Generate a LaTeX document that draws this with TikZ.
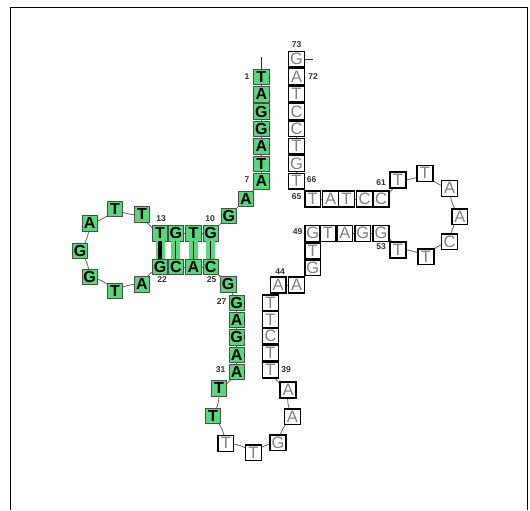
\documentclass[tikz,border=0pt]{standalone}
\usepackage{fontspec}
\setmainfont{Liberation Sans}
\definecolor{ggreen}{RGB}{90,214,124}
\definecolor{lettergray}{RGB}{128,128,128}
\pgfdeclarelayer{bg}
\pgfdeclarelayer{paper}
\pgfsetlayers{paper,bg,main}
\newcommand{\gfont}{\fontsize{16}{16}\selectfont\bfseries}
\newcommand{\wfont}{\fontsize{16.5}{16.5}\selectfont}
\newcommand{\lfont}{\fontsize{8.5}{8.5}\selectfont\bfseries}
\tikzset{
  gb/.style={draw=black!70, line width=0.6pt, fill=ggreen, minimum size=15.5pt, inner sep=0pt, font=\gfont, text=black},
  wb/.style={draw=black, line width=1.4pt, fill=white, minimum size=15.8pt, inner sep=0pt, font=\wfont, text=lettergray},
  bb/.style={draw=black!60, line width=0.8pt},
  lab/.style={font=\lfont, text=black!80, inner sep=0pt},
  pairband/.style={fill=ggreen, draw=none},
  pairline/.style={draw=black, line width=1pt},
  tickmark/.style={draw=black!85, line width=1.1pt},
  frameline/.style={draw=black, line width=1.5pt}
}
\begin{document}
\begin{tikzpicture}[x=1pt,y=-1pt]
\begin{pgfonlayer}{paper}
\useasboundingbox[fill=white] (0,0) rectangle (530,510);
\end{pgfonlayer}
\draw[frameline] (10.5,510) -- (10.5,7.5) -- (527.5,7.5) -- (527.5,510);

% green nucleotides
\foreach \i/\x/\y/\b in {
 1/261.3/76.7/T, 2/261.3/94.1/A, 3/261.3/111.5/G, 4/261.3/128.9/G, 5/261.3/146.3/A, 6/261.3/163.7/T, 7/261.3/181.1/A,
 8/245.8/199/A, 9/228.9/216/G, 10/210.6/233.3/G, 11/193.4/233.3/T, 12/175.8/233.3/G, 13/160/233.3/T,
 14/142/214.3/T, 15/115/209/T, 16/89.6/223.3/A, 17/80/250.7/G, 18/89.6/276.7/G, 19/115/291/T, 20/142/284.3/A,
 21/160/267/G, 22/175.8/267/C, 23/193.4/267/A, 24/210.6/267/C, 25/228.2/284.3/G,
 26/236.7/302.7/G, 27/236.7/320/A, 28/236.7/337.3/G, 29/236.7/354.7/A, 30/236.7/372/A,
 31/219/388.3/T, 32/213/416/T}
  \node[gb] (n\i) at (\x,\y) {\b};

% white nucleotides
\foreach \i/\x/\y/\b in {
 33/225.8/443.3/T, 34/253.5/452.7/T, 35/278/442.7/G, 36/292.4/416.7/A, 37/288/390/A,
 38/270.5/370/T, 39/270.5/353/T, 40/270.5/336/C, 41/270.5/319.5/T, 42/270.5/302.7/T,
 43/278.2/285/A, 44/296.5/285/A, 45/312.7/267.7/G, 46/312.7/251/T, 47/312.7/233.3/G,
 48/328/233.3/T, 49/344.8/233.3/A, 50/362.8/233.3/G, 51/381/233.3/G,
 52/398/250/T, 53/426/256.7/T, 54/449.6/241.7/C, 55/459.8/216.7/A, 56/449.6/188.3/A, 57/425/173.3/T, 58/398/180/T,
 59/381/199/C, 60/364.5/199/C, 61/346.5/199/T, 62/330.6/199/A, 63/312.7/199/T,
 64/296.5/181.1/T, 65/296.5/163.7/G, 66/296.5/146.3/T, 67/296.5/128.9/C, 68/296.5/111.5/C, 69/296.5/94.1/T, 70/296.5/76.7/A, 71/296.5/59.3/G}
  \node[wb] (n\i) at (\x,\y) {\b};

% ends
\coordinate (five) at (261.3,57);
\coordinate (three) at (313,59.3);

\begin{pgfonlayer}{bg}
  % straight backbone
  \foreach \i in {1,2,3,4,5,6,7,8,9,10,11,12,21,22,23,24,25,26,27,28,29,38,39,40,41,42,43,44,45,46,47,48,49,50,59,60,61,62,63,64,65,66,67,68,69,70}
    {\pgfmathtruncatemacro{\j}{\i+1}
     \draw[bb] (n\i.center) -- (n\j.center);}
  % loop backbone
  \foreach \i in {13,14,15,16,17,18,19,20,30,31,32,33,34,35,36,37,51,52,53,54,55,56,57,58}
    {\pgfmathtruncatemacro{\j}{\i+1}
     \draw[bb] (n\i.center) to[bend left=16] (n\j.center);}
  \draw[draw=black!80, line width=0.8pt] (n1.center) -- (five);
  \draw[draw=black!80, line width=0.8pt] (n71.center) -- (three);
\end{pgfonlayer}

% base pairs of the left stem
\foreach \a/\b in {10/24, 11/23, 12/22, 13/21}
  \fill[pairband] ([xshift=-4.5pt]n\a.south) rectangle ([xshift=4.5pt]n\b.north);
\foreach \a/\b in {10/24, 11/23, 12/22}
  \draw[pairline] (n\a.south) -- (n\b.north);
\draw[pairline, line width=3.5pt] (n13.south) -- (n21.north);

% small marks on the right of stem boxes
\foreach \i in {1,2,3,4,5,6,7,26,27,28,29,30}
  \draw[tickmark] ([yshift=-2pt]n\i.east) -- ([yshift=2pt]n\i.east);

% labels
\node[lab] (l1) at (247,77) {1};
\node[lab] (l7) at (247,180) {7};
\node[lab] (l13) at (161,219) {13};
\node[lab] (l10) at (210,219) {10};
\node[lab] (l22) at (162,279.5) {22};
\node[lab] (l25) at (211.5,279.5) {25};
\node[lab] (l27) at (221.5,302) {27};
\node[lab] (l31) at (220.5,370) {31};
\node[lab] (l39) at (286,370) {39};
\node[lab] (l44) at (280,272) {44};
\node[lab] (l49) at (297.5,232) {49};
\node[lab] (l53) at (381,246.5) {53};
\node[lab] (l61) at (381,183) {61};
\node[lab] (l65) at (296.5,197) {65};
\node[lab] (l66) at (311.5,180) {66};
\node[lab] (l72) at (313,77) {72};
\node[lab] (l73) at (296.5,45) {73};
\end{tikzpicture}
\end{document}
